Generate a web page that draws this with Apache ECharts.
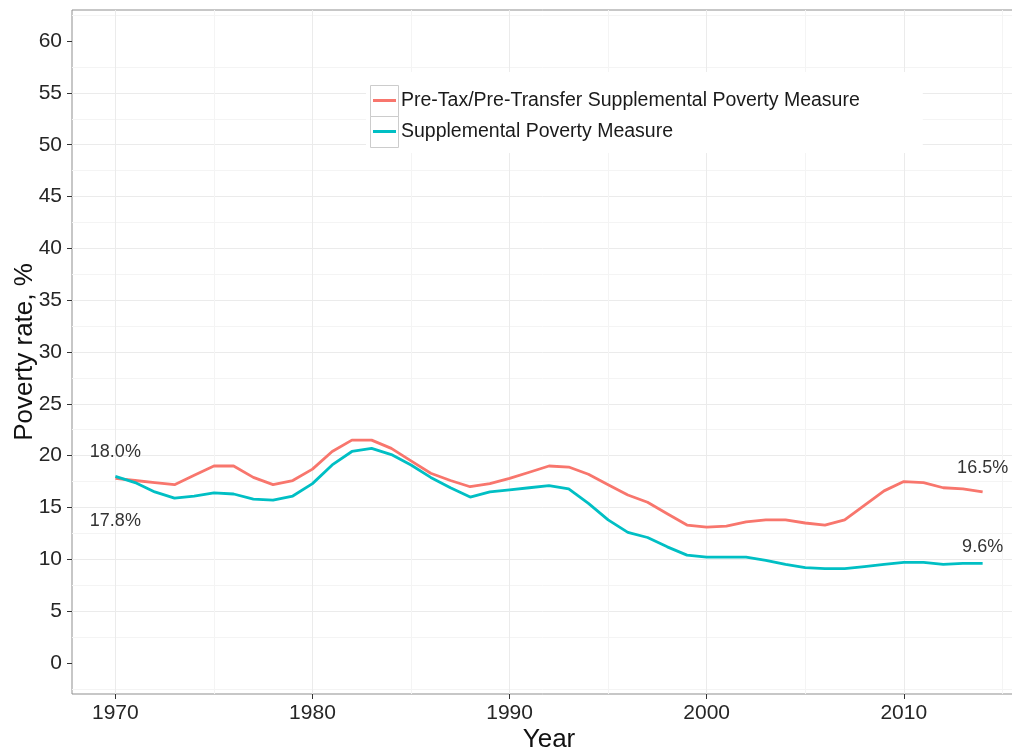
<!DOCTYPE html>
<html><head><meta charset="utf-8">
<script src="https://cdn.jsdelivr.net/npm/echarts@6/dist/echarts.min.js"></script>
<style>html,body{margin:0;padding:0;background:#fff}#c{width:1012px;height:753px}</style>
</head><body><div id="c"></div>
<script>
const years = [1970,1971,1972,1973,1974,1975,1976,1977,1978,1979,
               1980,1981,1982,1983,1984,1985,1986,1987,1988,1989,
               1990,1991,1992,1993,1994,1995,1996,1997,1998,1999,
               2000,2001,2002,2003,2004,2005,2006,2007,2008,2009,
               2010,2011,2012,2013,2014];
const preTaxSPM = [17.8,17.6,17.4,17.2,18.1,19.0,19.0,17.9,17.2,17.6,
                   18.7,20.4,21.5,21.5,20.7,19.5,18.3,17.6,17.0,17.3,
                   17.8,18.4,19.0,18.9,18.2,17.2,16.2,15.5,14.4,13.3,
                   13.1,13.2,13.6,13.8,13.8,13.5,13.3,13.8,15.2,16.6,
                   17.5,17.4,16.9,16.8,16.5];
const spm = [18.0,17.4,16.5,15.9,16.1,16.4,16.3,15.8,15.7,16.1,
             17.3,19.1,20.4,20.7,20.1,19.1,17.9,16.9,16.0,16.5,
             16.7,16.9,17.1,16.8,15.4,13.8,12.6,12.1,11.2,10.4,
             10.2,10.2,10.2,9.9,9.5,9.2,9.1,9.1,9.3,9.5,
             9.7,9.7,9.5,9.6,9.6];
const seriesNames = ['Pre-Tax/Pre-Transfer Supplemental Poverty Measure', 'Supplemental Poverty Measure'];
const xTickLabels = [1970, 1980, 1990, 2000, 2010];
const yTickLabels = [0, 5, 10, 15, 20, 25, 30, 35, 40, 45, 50, 55, 60];

const FONT = '"Liberation Sans", Arial, Helvetica, sans-serif';
const RED = '#F8766D', TEAL = '#00BFC4';

function valueLabel(pos, dist) {
  return { show: true, position: pos, distance: dist,
    formatter: p => p.value[1].toFixed(1) + '%',
    fontSize: 18, color: '#333', fontFamily: FONT };
}
function buildData(values, firstLabel, lastLabel) {
  return years.map((y, i) => {
    const item = { value: [y, values[i]] };
    if (i === 0 && firstLabel) item.label = firstLabel;
    if (i === years.length - 1 && lastLabel) item.label = lastLabel;
    return item;
  });
}

const chart = echarts.init(document.getElementById('c'), null, { renderer: 'canvas' });
chart.setOption({
  animation: false,
  backgroundColor: '#fff',
  grid: { left: 72, top: 10, bottom: 59, right: -14, show: true, containLabel: false,
          outerBoundsMode: 'none',
          borderColor: '#8f8f8f', borderWidth: 1, backgroundColor: '#fff' },
  xAxis: [{
    type: 'value', min: 1967.8, max: 2016.2, splitNumber: 5, position: 'bottom',
    axisLine: { show: false, onZero: false },
    axisTick: { show: true, length: 5, lineStyle: { color: '#333' }, customValues: xTickLabels },
    axisLabel: { customValues: xTickLabels, fontSize: 21, color: '#262626', fontFamily: FONT, margin: 9,
                 formatter: v => (v % 10 === 0 ? String(v) : '') },
    splitLine: { show: false },
    name: 'Year', nameLocation: 'middle', nameGap: 33, nameMoveOverlap: false,
    nameTextStyle: { fontSize: 26, color: '#111', fontFamily: FONT }
  }, {
    type: 'value', min: 1967.8, max: 2016.2, splitNumber: 10, position: 'top',
    axisLine: { show: false, onZero: false }, axisTick: { show: false }, axisLabel: { show: false },
    splitLine: { show: true, showMinLine: false, showMaxLine: false,
                 lineStyle: { color: ['#ebebeb', '#f4f4f4'], width: 1 } }
  }],
  yAxis: {
    type: 'value', min: -3, max: 63, splitNumber: 12, position: 'left',
    axisLine: { show: false, onZero: false },
    axisTick: { show: true, length: 5, lineStyle: { color: '#333' }, customValues: yTickLabels },
    axisLabel: { customValues: yTickLabels, fontSize: 21, color: '#262626', fontFamily: FONT, margin: 10,
                 formatter: v => (v % 5 === 0 && v >= 0 && v <= 60 ? String(v) : '') },
    splitLine: { show: true, showMinLine: false, showMaxLine: false, lineStyle: { color: '#ebebeb', width: 1 } },
    minorTick: { show: false, splitNumber: 2 },
    minorSplitLine: { show: true, lineStyle: { color: '#f4f4f4', width: 1 } },
    name: 'Poverty rate, %', nameLocation: 'middle', nameGap: 34, nameMoveOverlap: false,
    nameTextStyle: { fontSize: 26, color: '#111', fontFamily: FONT }
  },
  legend: {
    data: seriesNames, orient: 'vertical', left: 366, top: 72,
    padding: [13, 63, 6, 7], backgroundColor: '#fff',
    icon: 'rect', itemWidth: 23, itemHeight: 3, itemGap: 0,
    textStyle: { fontSize: 19.5, color: '#1a1a1a', fontFamily: FONT, lineHeight: 31 }
  },
  graphic: [
    { type: 'rect', z: 100, shape: { x: 370.5, y: 85.5, width: 28, height: 31 },
      style: { fill: 'none', stroke: '#cccccc', lineWidth: 1 } },
    { type: 'rect', z: 100, shape: { x: 370.5, y: 116.5, width: 28, height: 31 },
      style: { fill: 'none', stroke: '#cccccc', lineWidth: 1 } }
  ],
  series: [{
    name: seriesNames[0], type: 'line', xAxisIndex: 0, smooth: false,
    symbol: 'circle', symbolSize: 0.001, showSymbol: true, showAllSymbol: true,
    lineStyle: { color: RED, width: 2.8 }, itemStyle: { color: RED },
    label: { show: false }, emphasis: { disabled: true },
    data: buildData(preTaxSPM, valueLabel('bottom', 34), valueLabel('top', 15))
  }, {
    name: seriesNames[1], type: 'line', xAxisIndex: 0, smooth: false,
    symbol: 'circle', symbolSize: 0.001, showSymbol: true, showAllSymbol: true,
    lineStyle: { color: TEAL, width: 2.8 }, itemStyle: { color: TEAL },
    label: { show: false }, emphasis: { disabled: true },
    data: buildData(spm, valueLabel('top', 15), valueLabel('top', 7))
  }]
});
</script>
</body></html>
